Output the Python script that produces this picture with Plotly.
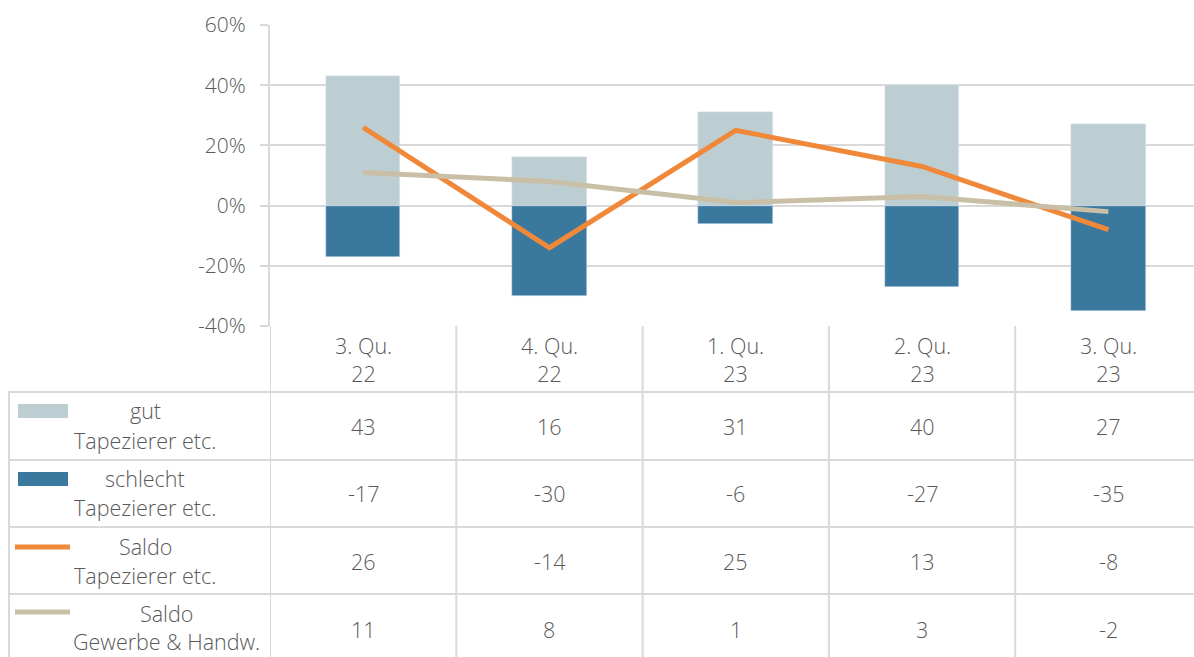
import plotly.graph_objects as go

# ---- data ----
categories = ["3. Qu. 22", "4. Qu. 22", "1. Qu. 23", "2. Qu. 23", "3. Qu. 23"]
cat_line1 = ["3. Qu.", "4. Qu.", "1. Qu.", "2. Qu.", "3. Qu."]
cat_line2 = ["22", "22", "23", "23", "23"]
gut = [43, 16, 31, 40, 27]
schlecht = [-17, -30, -6, -27, -35]
saldo_tap = [26, -14, 25, 13, -8]
saldo_gh = [11, 8, 1, 3, -2]
ytick_vals = [-40, -20, 0, 20, 40, 60]
ytick_text = ["-40%", "-20%", "0%", "20%", "40%", "60%"]
series_names = [("gut", "Tapezierer etc."), ("schlecht", "Tapezierer etc."),
                ("Saldo", "Tapezierer etc."), ("Saldo", "Gewerbe & Handw.")]

# ---- style ----
W, H = 1194, 657
C_GUT = "#BDCED3"
C_SCH = "#3B789E"
C_ORA = "#F0883A"
C_BEI = "#C9BFA6"
GRID = "#D9D9D9"
TXT = "#595959"
FONT = "Open Sans"
FS = 21.5
FS_TICK = 21
CAT_W = 186.3                    # pixel width of one category column

def px(x):
    return x / W

def py(y):
    return 1 - y / H

fig = go.Figure()
fig.add_trace(go.Bar(x=categories, y=gut, marker_color=C_GUT, width=0.4, name="gut"))
fig.add_trace(go.Bar(x=categories, y=schlecht, marker_color=C_SCH, width=0.4, name="schlecht"))
fig.add_trace(go.Scatter(x=categories, y=saldo_tap, mode="lines",
                         line=dict(color=C_ORA, width=5), name="Saldo Tap"))
fig.add_trace(go.Scatter(x=categories, y=saldo_gh, mode="lines",
                         line=dict(color=C_BEI, width=5), name="Saldo GH"))

shapes = []
ann = []
# table lines
row_lines = [392, 460, 527, 594]
for yy in row_lines:
    shapes.append(dict(type="line", xref="paper", yref="paper", x0=px(8), x1=1,
                       y0=py(yy), y1=py(yy), line=dict(color=GRID, width=2), layer="below"))
shapes.append(dict(type="line", xref="paper", yref="paper", x0=px(9), x1=px(9),
                   y0=py(392), y1=0, line=dict(color=GRID, width=2)))
for i in range(len(categories)):
    shapes.append(dict(type="line", xref="x", yref="paper", x0=i - 0.5, x1=i - 0.5,
                       y0=py(326), y1=0, line=dict(color=GRID, width=2)))

# header (two-line category labels)
for i, c in enumerate(categories):
    ann.append(dict(x=c, xref="x", y=py(359), yref="paper",
                    text=cat_line1[i] + "<br>" + cat_line2[i],
                    showarrow=False, xanchor="center", yanchor="middle", align="center"))

# rows
row_series = [gut, schlecht, saldo_tap, saldo_gh]
row_val_y = [426, 493, 561, 629]
row_lab_y = [(410, 440), (478, 507), (546, 575), (613, 641)]
row_lab_x = [145, 145, 145, 166]
for r, vals in enumerate(row_series):
    for i, c in enumerate(categories):
        ann.append(dict(x=c, xref="x", y=py(row_val_y[r]), yref="paper", text=str(vals[i]),
                        showarrow=False, xanchor="center", yanchor="middle"))
    t1, t2 = series_names[r]
    ann.append(dict(x=px(row_lab_x[r]), xref="paper", y=py(row_lab_y[r][0]), yref="paper",
                    text=t1, showarrow=False, xanchor="center", yanchor="middle"))
    ann.append(dict(x=px(row_lab_x[r]), xref="paper", y=py(row_lab_y[r][1]), yref="paper",
                    text=t2, showarrow=False, xanchor="center", yanchor="middle"))

# legend keys
shapes.append(dict(type="rect", xref="paper", yref="paper", x0=px(18), x1=px(68),
                   y0=py(418), y1=py(404), fillcolor=C_GUT, line=dict(width=0)))
shapes.append(dict(type="rect", xref="paper", yref="paper", x0=px(18), x1=px(68),
                   y0=py(486), y1=py(472), fillcolor=C_SCH, line=dict(width=0)))
shapes.append(dict(type="line", xref="paper", yref="paper", x0=px(15), x1=px(70),
                   y0=py(547), y1=py(547), line=dict(color=C_ORA, width=5)))
shapes.append(dict(type="line", xref="paper", yref="paper", x0=px(15), x1=px(70),
                   y0=py(612), y1=py(612), line=dict(color=C_BEI, width=5)))

fig.update_layout(
    width=W, height=H, margin=dict(l=0, r=0, t=0, b=0, autoexpand=False),
    paper_bgcolor="white", plot_bgcolor="white", showlegend=False,
    barmode="relative", bargap=0,
    font=dict(family=FONT, size=FS, color=TXT, weight=300),
    shapes=shapes, annotations=ann,
    xaxis=dict(domain=[px(270), 1], range=[-0.5, -0.5 + (W - 270) / CAT_W],
               showticklabels=False, showgrid=False, zeroline=False, showline=False,
               ticks="", automargin=False),
    yaxis=dict(domain=[py(326), py(25)], range=[-40, 60], tickvals=ytick_vals,
               ticktext=ytick_text, showgrid=True, gridcolor=GRID, gridwidth=2,
               zeroline=True, zerolinecolor=GRID, zerolinewidth=2,
               showline=True, linecolor=GRID, linewidth=2, automargin=False,
               ticklabeloverflow="allow",
               ticks="outside", ticklen=8, tickcolor=GRID, tickwidth=2,
               ticklabelstandoff=10, tickfont=dict(size=FS_TICK, color=TXT, weight=300)),
)

post = ("var d=document.getElementById('{plot_id}');"
        "d.style.position='fixed';d.style.top='0px';d.style.left='0px';"
        "document.body.style.margin='0';document.body.style.padding='0';"
        "document.documentElement.style.overflow='hidden';"
        "document.body.style.overflow='hidden';")
fig.write_html("out.html", config={"displayModeBar": False}, post_script=post)
